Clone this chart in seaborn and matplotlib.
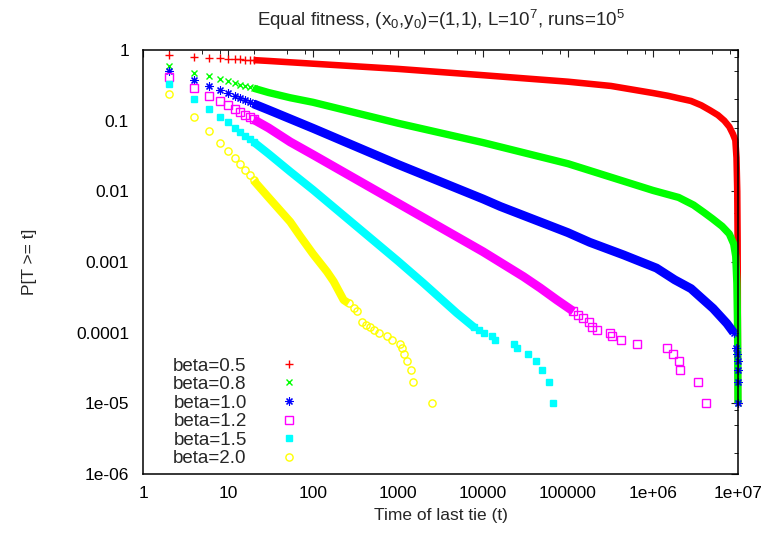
import matplotlib
matplotlib.use("Agg")
import matplotlib.pyplot as plt
from matplotlib.lines import Line2D
from matplotlib.ticker import FixedLocator, FixedFormatter, LogLocator, NullFormatter
import pandas as pd
import seaborn as sns

# ---- survival function P[T >= t] of the time of the last tie ----
betas = ["0.5", "0.8", "1.0", "1.2", "1.5", "2.0"]

t_b05 = [2, 4, 6, 8, 10, 12, 14, 16, 18, 20, 30, 54, 100, 1e3, 1e4, 1e5, 3.2e5, 1e6,
         1.5e6, 2.1e6, 2.8e6, 3.7e6, 4.7e6, 5.8e6, 6.9e6, 7.9e6, 8.7e6, 9.3e6, 9.6e6,
         9.8e6, 9.9e6, 9.95e6, 1e7]
p_b05 = [0.85, 0.80, 0.78, 0.76, 0.75, 0.74, 0.735, 0.73, 0.725, 0.72, 0.70, 0.67, 0.64,
         0.54, 0.44, 0.356, 0.31, 0.246, 0.225, 0.205, 0.19, 0.165, 0.14, 0.12, 0.10,
         0.082, 0.065, 0.053, 0.03, 0.01, 0.002, 3e-4, 1e-5]

t_b08 = [2, 4, 6, 8, 10, 12, 14, 16, 18, 20, 30, 54, 100, 1e3, 1e4, 1e5, 1e6, 2e6, 3e6,
         4e6, 5e6, 6.5e6, 7.9e6, 8.9e6, 9.4e6, 9.7e6, 9.85e6, 9.93e6, 1e7]
p_b08 = [0.59, 0.48, 0.43, 0.385, 0.36, 0.339, 0.323, 0.309, 0.298, 0.288, 0.25, 0.211,
         0.182, 0.092, 0.049, 0.0246, 0.0103, 0.0082, 0.0064, 0.0050, 0.0041, 0.0032,
         0.0025, 0.0018, 0.0012, 5e-4, 1.5e-4, 5e-5, 1e-5]

t_b10 = [2, 4, 6, 8, 10, 12, 14, 16, 18, 20, 30, 54, 100, 1e3, 1e4, 1.6e4, 1e5, 1.8e5,
         4.5e5, 1.1e6, 1.8e6, 2.8e6, 3.6e6, 5.1e6, 7.4e6, 8.9e6, 9.6e6, 9.8e6, 9.9e6,
         9.95e6, 9.98e6, 1e7]
p_b10 = [0.50, 0.376, 0.31, 0.27, 0.244, 0.223, 0.206, 0.193, 0.182, 0.173, 0.142, 0.106,
         0.078, 0.024, 0.0078, 0.0061, 0.0026, 0.0019, 0.00126, 8.2e-4, 5.6e-4, 4.2e-4,
         3.2e-4, 2.2e-4, 1.35e-4, 1.0e-4, 6e-5, 5e-5, 4e-5, 3e-5, 2e-5, 1e-5]

t_b12 = [2, 4, 6, 8, 10, 12, 14, 16, 18, 20, 30, 54, 100, 1e3, 1e4, 3e4, 4.7e4, 7.4e4,
         1.16e5, 1.3e5, 1.5e5, 1.75e5, 1.9e5, 2.2e5, 3.1e5, 3.3e5, 4.2e5, 6.5e5, 1.46e6,
         1.7e6, 2.0e6, 2.1e6, 3.4e6, 4.2e6]
p_b12 = [0.42, 0.287, 0.226, 0.19, 0.167, 0.147, 0.133, 0.121, 0.111, 0.104, 0.079, 0.050,
         0.033, 0.0068, 0.0014, 6.2e-4, 4.3e-4, 2.9e-4, 2.0e-4, 1.8e-4, 1.6e-4, 1.4e-4,
         1.2e-4, 1.1e-4, 1.0e-4, 9e-5, 8e-5, 7e-5, 6e-5, 5e-5, 4e-5, 3e-5, 2e-5, 1e-5]

t_b15 = [2, 4, 6, 8, 10, 12, 14, 16, 18, 20, 30, 54, 100, 1e3, 2e3, 4.9e3, 7.8e3, 9e3,
         1.04e4, 1.27e4, 1.37e4, 2.3e4, 2.5e4, 3.4e4, 4.2e4, 5.0e4, 6.0e4, 6.7e4]
p_b15 = [0.33, 0.20, 0.145, 0.114, 0.097, 0.080, 0.070, 0.060, 0.055, 0.050, 0.034, 0.019,
         0.0105, 0.00103, 5.0e-4, 1.9e-4, 1.2e-4, 1.1e-4, 1.0e-4, 9e-5, 8e-5, 7e-5, 6e-5,
         5e-5, 4e-5, 3e-5, 2e-5, 1e-5]

t_b20 = [2, 4, 6, 8, 10, 12, 14, 16, 18, 20, 30, 54, 71, 100, 146, 175, 229, 262, 300,
         330, 380, 420, 470, 520, 590, 740, 850, 1050, 1100, 1180, 1270, 1440, 1500, 2500]
p_b20 = [0.236, 0.114, 0.071, 0.049, 0.037, 0.030, 0.0244, 0.0200, 0.0168, 0.0143, 0.0082,
         0.0037, 0.0023, 0.0013, 7.3e-4, 5.3e-4, 2.9e-4, 2.6e-4, 2.2e-4, 2.0e-4, 1.4e-4,
         1.3e-4, 1.2e-4, 1.1e-4, 1.0e-4, 9e-5, 8e-5, 7e-5, 6e-5, 5e-5, 4e-5, 3e-5, 2e-5,
         1e-5]

x_ticks = [1, 10, 100, 1e3, 1e4, 1e5, 1e6, 1e7]
x_tick_labels = ["1", "10", "100", "1000", "10000", "100000", "1e+06", "1e+07"]
y_ticks = [1e-6, 1e-5, 1e-4, 1e-3, 1e-2, 1e-1, 1]
y_tick_labels = ["1e-06", "1e-05", "0.0001", "0.001", "0.01", "0.1", "1"]

series_t = [t_b05, t_b08, t_b10, t_b12, t_b15, t_b20]
series_p = [p_b05, p_b08, p_b10, p_b12, p_b15, p_b20]

# ---- drawing style ----
colors = ["#ff0000", "#00ff00", "#0000ff", "#ff00ff", "#00ffff", "#ffff00"]
markers = ["+", "x", (8, 2, 0), "s", "s", "o"]
msizes = [5.2, 4.8, 5.8, 5.2, 4.6, 5.2]
mews = [1.0, 1.0, 0.8, 1.0, 1.0, 1.0]
hollow = [False, False, False, True, False, True]
# range of t where the markers merge into a continuous band, and its thickness
band_from = 20
band_to = [1e7, 1e7, 8.9e6, 1.16e5, 7.8e3, 262]
band_lw = [4.7, 5.3, 6.4, 6.4, 5.8, 5.8]
FS = 12.5
FS_BIG = 13.5

sns.set_theme(style="white")
plt.rcParams["font.family"] = ["Liberation Sans", "DejaVu Sans"]
plt.rcParams["mathtext.fontset"] = "custom"
plt.rcParams["mathtext.rm"] = "Liberation Sans"
plt.rcParams["mathtext.it"] = "Liberation Sans:italic"
plt.rcParams["mathtext.bf"] = "Liberation Sans:bold"

W, H = 777, 533
fig = plt.figure(figsize=(W / 100, H / 100), dpi=100, facecolor="white")
L, R, T, B = 143, 738, 50, 474
ax = fig.add_axes([L / W, 1 - B / H, (R - L) / W, (B - T) / H])
ax.set_facecolor("white")
ax.set_xscale("log")
ax.set_yscale("log")

handles = []
for i, (ts, ps) in enumerate(zip(series_t, series_p)):
    df = pd.DataFrame({"t": ts, "p": ps})
    c = colors[i]
    band = df[(df.t >= band_from) & (df.t <= band_to[i])]
    sns.lineplot(data=band, x="t", y="p", color=c, lw=band_lw[i], estimator=None,
                 sort=False, solid_capstyle="butt", solid_joinstyle="round",
                 clip_on=False, legend=False, ax=ax, zorder=2 + i)
    # individual symbols where the points are still separated
    sparse = df[(df.t <= band_from) | (df.t >= band_to[i])]
    mkw = dict(marker=markers[i], ms=msizes[i], mec=c, mew=mews[i],
               mfc="none" if hollow[i] else c)
    sns.lineplot(data=sparse, x="t", y="p", color=c, linestyle="none", estimator=None,
                 sort=False, clip_on=False, legend=False, ax=ax, zorder=2 + i, **mkw)
    handles.append(Line2D([], [], color=c, linestyle="none", **mkw))

ax.set_xlim(1, 1e7)
ax.set_ylim(1e-6, 1)

ax.xaxis.set_major_locator(FixedLocator(x_ticks))
ax.xaxis.set_major_formatter(FixedFormatter(x_tick_labels))
ax.yaxis.set_major_locator(FixedLocator(y_ticks))
ax.yaxis.set_major_formatter(FixedFormatter(y_tick_labels))
ax.xaxis.set_minor_locator(LogLocator(base=10, subs=(2, 5, 8), numticks=20))
ax.yaxis.set_minor_locator(LogLocator(base=10, subs=(2, 5, 8), numticks=20))
ax.xaxis.set_minor_formatter(NullFormatter())
ax.yaxis.set_minor_formatter(NullFormatter())

ax.tick_params(which="both", direction="in", top=True, right=True,
               colors="#202020", labelcolor="black", labelsize=FS)
ax.tick_params(which="major", length=5.2, width=0.8)
ax.tick_params(which="minor", length=3.0, width=0.7)
ax.tick_params(axis="x", which="major", pad=9)
ax.tick_params(axis="y", which="major", pad=10)
for s in ax.spines.values():
    s.set_color("black")
    s.set_linewidth(1.1)
    s.set_zorder(10)

ax.set_xlabel("Time of last tie (t)", fontsize=FS)
ax.set_ylabel("P[T >= t]", fontsize=FS)
ax.xaxis.set_label_coords(0.5, -0.08)
ax.yaxis.set_label_coords(-0.178, 0.5)

ax.set_title(r"Equal fitness, (x$_0$,y$_0$)=(1,1), L=10$^7$, runs=10$^5$",
             fontsize=FS_BIG, pad=17)

ax.legend(handles, [f"beta={b}" for b in betas], loc="lower left",
          bbox_to_anchor=(0.035, -0.006), frameon=False, markerfirst=False,
          handlelength=2.0, handletextpad=1.24, labelspacing=0.075, borderpad=0,
          fontsize=FS_BIG)

fig.savefig("out.png", dpi=100, facecolor="white")
